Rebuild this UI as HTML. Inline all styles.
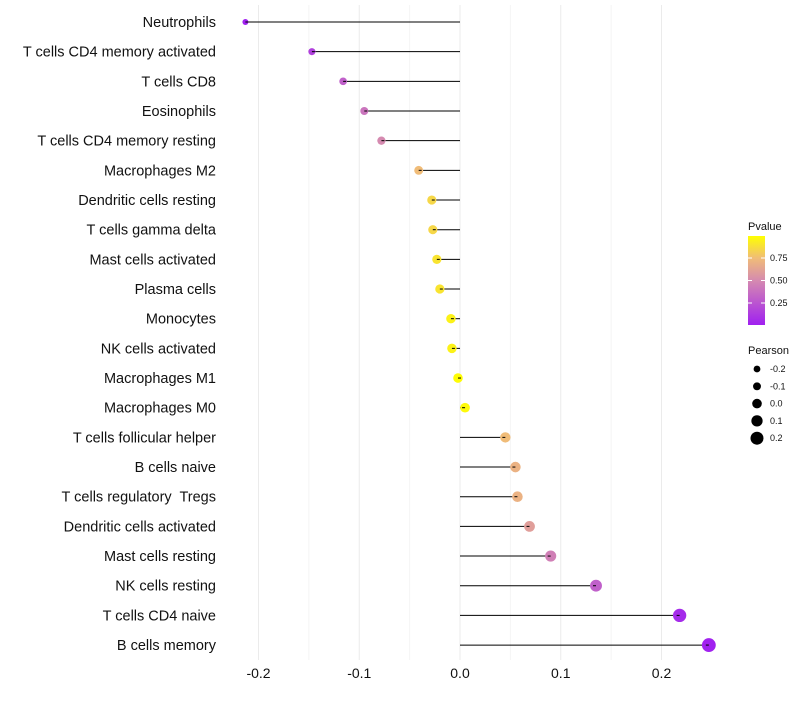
<!DOCTYPE html>
<html><head><meta charset="utf-8"><style>
body{margin:0;background:#fff;font-family:"Liberation Sans",sans-serif}
text{white-space:pre}
</style></head><body>
<svg id="chart" width="800" height="700">
<defs><linearGradient id="pg" x1="0" y1="1" x2="0" y2="0">
<stop offset="0" stop-color="#A020F0"/><stop offset="0.5" stop-color="#D58AB0"/><stop offset="0.75" stop-color="#F0BC78"/><stop offset="1" stop-color="#FFFF00"/></linearGradient></defs>
<g id="grid"></g><g id="marks"></g><g id="labels"></g>
<g id="legend"></g>
</svg>
<script>
const categories=["Neutrophils","T cells CD4 memory activated","T cells CD8","Eosinophils","T cells CD4 memory resting","Macrophages M2","Dendritic cells resting","T cells gamma delta","Mast cells activated","Plasma cells","Monocytes","NK cells activated","Macrophages M1","Macrophages M0","T cells follicular helper","B cells naive","T cells regulatory  Tregs","Dendritic cells activated","Mast cells resting","NK cells resting","T cells CD4 naive","B cells memory"];
const pearson=[-0.213,-0.147,-0.116,-0.095,-0.078,-0.041,-0.028,-0.027,-0.023,-0.020,-0.009,-0.008,-0.002,0.005,0.045,0.055,0.057,0.069,0.090,0.135,0.218,0.247];
const pvalue=[0.0,0.15,0.3,0.4,0.5,0.75,0.85,0.85,0.9,0.9,0.95,0.95,0.99,0.98,0.75,0.7,0.7,0.6,0.45,0.3,0.05,0.01];
const xTicks=[-0.2,-0.1,0.0,0.1,0.2];
const xTickLabels=["-0.2","-0.1","0.0","0.1","0.2"];
const pTicks=[0.25,0.5,0.75];
const sizeTicks=[-0.2,-0.1,0.0,0.1,0.2];
const NS="http://www.w3.org/2000/svg";
const x=v=>460+v*1007.5;
const y=i=>22+i*29.67;
const rad=v=>Math.max(1.5,4.8+v*8.5);
function lerp(a,b,t){return a.map((c,k)=>Math.round(c+(b[k]-c)*t));}
function col(p){const st=[[0,[160,32,240]],[0.5,[213,138,176]],[0.75,[240,188,120]],[1,[255,255,0]]];
for(let k=1;k<st.length;k++){if(p<=st[k][0]){const t=(p-st[k-1][0])/(st[k][0]-st[k-1][0]);return "rgb("+lerp(st[k-1][1],st[k][1],t)+")";}}return "rgb(255,255,0)";}
function el(t,a,p){const e=document.createElementNS(NS,t);for(const k in a)e.setAttribute(k,a[k]);p.appendChild(e);return e;}
const grid=document.getElementById('grid'),marks=document.getElementById('marks'),labels=document.getElementById('labels'),leg=document.getElementById('legend');
[-0.15,-0.05,0.05,0.15].forEach(v=>{const l=el('line',{x1:x(v),x2:x(v),y1:5,y2:660,stroke:'#F4F4F4','stroke-width':1},grid);

});
xTicks.forEach((v,i)=>{const l=el('line',{x1:x(v),x2:x(v),y1:5,y2:660,stroke:'#EBEBEB','stroke-width':1},grid);


const t=el('text',{x:x(v),y:678,'text-anchor':'middle','font-size':14,fill:'#111'},labels);t.textContent=xTickLabels[i];

});
categories.forEach((c,i)=>{const t=el('text',{x:216,y:y(i)+5,'text-anchor':'end','font-size':14.5,fill:'#111'},labels);t.textContent=c;


const l=el('line',{x1:x(0),x2:x(pearson[i]),y1:y(i),y2:y(i),stroke:'#000','stroke-width':1},marks);


const d=el('circle',{cx:x(pearson[i]),cy:y(i),r:rad(pearson[i]),fill:col(pvalue[i])},marks);


const l2=el('line',{x1:x(pearson[i])-(pearson[i]<0?-3:3),x2:x(pearson[i]),y1:y(i),y2:y(i),stroke:'#000','stroke-width':1},marks);

});
let t=el('text',{x:748,y:230,'font-size':11,fill:'#111'},leg);t.textContent='Pvalue';


let r=el('rect',{x:748,y:236,width:17,height:89,fill:'url(#pg)'},leg);


pTicks.forEach(p=>{const yy=325.5-p*90;el('line',{x1:748,x2:752,y1:yy,y2:yy,stroke:'#fff'},leg);el('line',{x1:761,x2:765,y1:yy,y2:yy,stroke:'#fff'},leg);
const tt=el('text',{x:770,y:yy+3,'font-size':9,fill:'#111'},leg);tt.textContent=p.toFixed(2);

});
t=el('text',{x:748,y:354,'font-size':11,fill:'#111'},leg);t.textContent='Pearson';


sizeTicks.forEach((v,i)=>{const yy=369+i*17.3;const c=el('circle',{cx:757,cy:yy,r:rad(v)*(v<-0.15?1.1:1),fill:'#000'},leg);


const tt=el('text',{x:770,y:yy+3,'font-size':9,fill:'#111'},leg);tt.textContent=v.toFixed(1);

});
</script>
</body></html>
